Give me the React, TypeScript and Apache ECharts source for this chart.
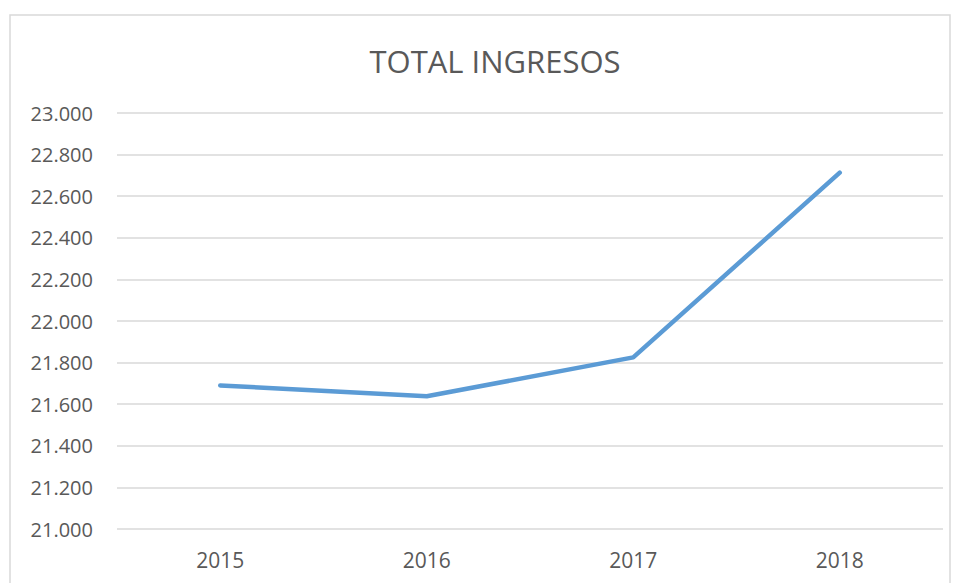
import React, { useEffect, useRef } from "react";
import * as echarts from "echarts";

const categories = ["2015", "2016", "2017", "2018"];
const values = [21690, 21638, 21825, 22713];
const title = "TOTAL INGRESOS";

export default function App() {
  const ref = useRef<HTMLDivElement>(null);
  useEffect(() => {
    const chart = echarts.init(ref.current!, null, { renderer: "svg" });
    chart.setOption({
      animation: false,
      backgroundColor: "#ffffff",
      title: {
        text: title,
        left: 490,
        textAlign: "center",
        top: 40,
        textStyle: { color: "#595959", fontSize: 31, fontWeight: "normal", fontFamily: "Open Sans" },
      },
      graphic: [
        {
          type: "rect",
          shape: { x: 10, y: 15, width: 940, height: 600 },
          style: { fill: "none", stroke: "#d9d9d9", lineWidth: 1.5 },
          silent: true,
        },
      ],
      grid: { left: 117, right: 13, top: 113, bottom: 54, containLabel: false },
      xAxis: {
        type: "category",
        data: categories,
        boundaryGap: true,
        axisLine: { show: false },
        axisTick: { show: false },
        axisLabel: { color: "#595959", fontSize: 21, margin: 20, fontFamily: "Open Sans" },
      },
      yAxis: {
        type: "value",
        min: 21000,
        max: 23000,
        interval: 200,
        axisLine: { show: false },
        axisTick: { show: false },
        splitLine: { lineStyle: { color: "#d9d9d9", width: 1.5 } },
        axisLabel: {
          color: "#595959",
          fontSize: 20,
          margin: 24,
          fontFamily: "Open Sans",
          formatter: (v: number) => {
            const s = v.toFixed(0);
            return s.slice(0, s.length - 3) + "." + s.slice(s.length - 3);
          },
        },
      },
      series: [
        {
          type: "line",
          data: values,
          symbol: "none",
          lineStyle: { color: "#5b9bd5", width: 4.5, cap: "round", join: "round" },
        },
      ],
    });
    return () => chart.dispose();
  }, []);
  return <div ref={ref} style={{ position: "absolute", left: 0, top: 0, width: 956, height: 583 }} />;
}
